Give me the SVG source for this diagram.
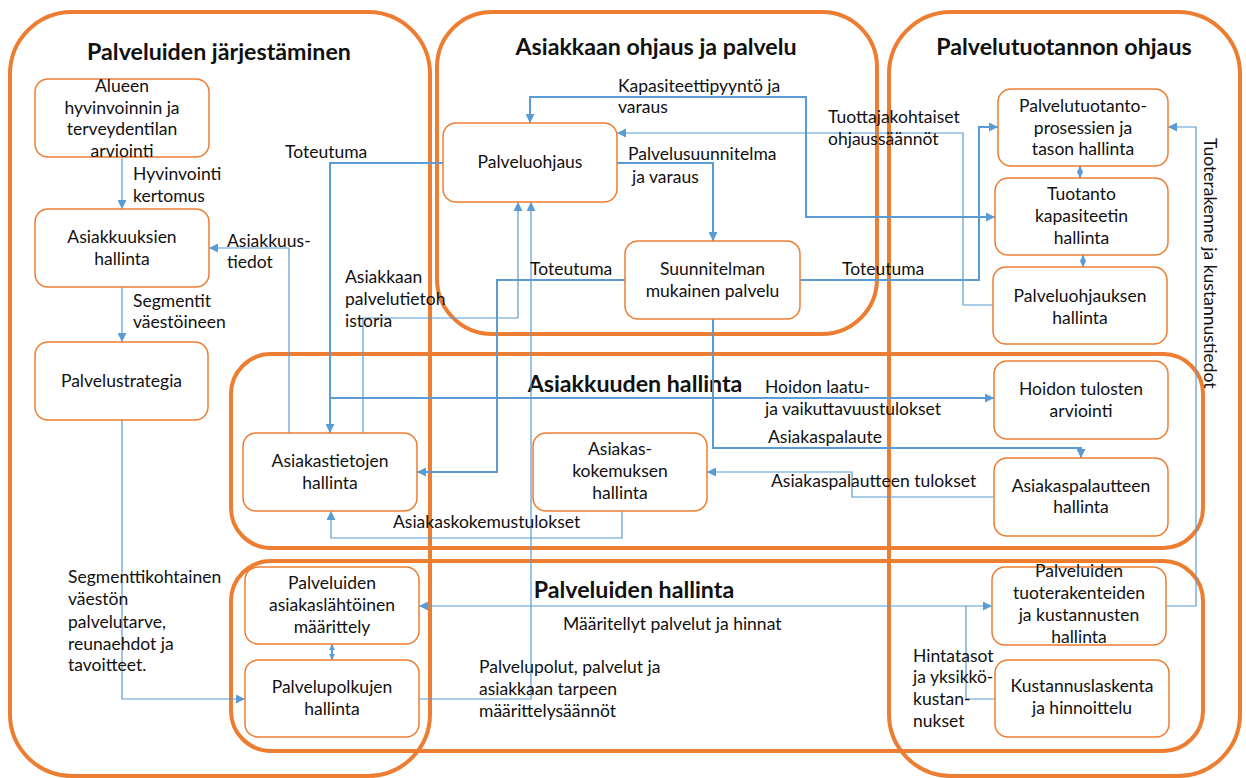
<svg xmlns="http://www.w3.org/2000/svg" width="1246" height="778" viewBox="0 0 1246 778">
<defs>
<style>
text{font-family:Lato,"Liberation Sans",sans-serif;font-size:17.5px;fill:#111}
.t{font-weight:bold;font-size:23.2px;text-anchor:middle}
.n rect{fill:#fff;stroke:#ED7D31;stroke-width:1.5}
.n text{text-anchor:middle}
.ct{fill:none;stroke:#ED7D31;stroke-width:4}
.c{fill:none;stroke:#5B9BD5;stroke-width:2}
.cl{fill:none;stroke:#5B9BD5;stroke-width:1.2}
</style>
<marker id="a" viewBox="0 0 10 10" refX="10" refY="5" markerWidth="9" markerHeight="9" markerUnits="userSpaceOnUse" orient="auto-start-reverse"><path d="M0,0 L10,5 L0,10 z" fill="#5B9BD5"/></marker>
<marker id="s" viewBox="0 0 10 10" refX="10" refY="5" markerWidth="6" markerHeight="8" markerUnits="userSpaceOnUse" orient="auto-start-reverse"><path d="M0,0 L10,5 L0,10 z" fill="#5B9BD5"/></marker>
</defs>
<rect width="1246" height="778" fill="#fff"/>

<g id="containers">
<g id="cont-jarjestaminen"><rect class="ct" x="10" y="12" width="420" height="764" rx="62"/><text class="t" x="219" y="60">Palveluiden järjestäminen</text></g>
<g id="cont-asiakkaan-ohjaus"><rect class="ct" x="437" y="12" width="440" height="322" rx="55"/><text class="t" x="656" y="55">Asiakkaan ohjaus ja palvelu</text></g>
<g id="cont-palvelutuotanto"><rect class="ct" x="889" y="12" width="351" height="764" rx="62"/><text class="t" x="1064" y="55">Palvelutuotannon ohjaus</text></g>
<g id="cont-asiakkuuden"><rect class="ct" x="231" y="354" width="972" height="194" rx="40"/><text class="t" x="635" y="392">Asiakkuuden hallinta</text></g>
<g id="cont-palveluiden-hallinta"><rect class="ct" x="231" y="561" width="972" height="190" rx="40"/><text class="t" x="634" y="598">Palveluiden hallinta</text></g>
</g>

<g id="connectors">
<path class="cl" d="M122,157 V209" marker-end="url(#a)"/>
<path class="cl" d="M122,287 V342" marker-end="url(#a)"/>
<path class="cl" d="M122,420 V699 H245" marker-end="url(#a)"/>
<path class="cl" d="M289,433 V248 H209" marker-end="url(#a)"/>
<path class="c" d="M443,163 H330 V433" marker-end="url(#a)"/>
<path class="c" d="M330,398 H994" marker-end="url(#a)"/>
<path class="cl" d="M363,433 V318 H518 V202" marker-end="url(#a)"/>
<path class="cl" d="M419,699 H531 V202" marker-end="url(#a)"/>
<path class="c" d="M530,123 V97 H806 V217 H995" marker-start="url(#a)" marker-end="url(#a)"/>
<path class="cl" d="M993,305 H963 V133 H617" marker-end="url(#a)"/>
<path class="c" d="M617,163 H713 V241" marker-end="url(#a)"/>
<path class="c" d="M800,280 H979 V127 H998" marker-end="url(#a)"/>
<path class="c" d="M625,280 H497 V472 H417" marker-end="url(#a)"/>
<path class="c" d="M713,319 V448 H1081 V458" marker-end="url(#a)"/>
<path class="cl" d="M994,497 H852 V472 H707" marker-end="url(#a)"/>
<path class="cl" d="M622,511 V538 H331 V511" marker-end="url(#a)"/>
<path class="c" d="M1080,166 V178" marker-start="url(#s)" marker-end="url(#s)"/>
<path class="c" d="M1083,255 V267" marker-start="url(#s)" marker-end="url(#s)"/>
<path class="c" d="M332,644 V660" marker-start="url(#s)" marker-end="url(#s)"/>
<path class="cl" d="M419,606 H992" marker-start="url(#a)" marker-end="url(#a)"/>
<path class="cl" d="M995,699 H966 V606"/>
<path class="cl" d="M1166,606 H1196 V127 H1168" marker-end="url(#a)"/>

<g id="connector-labels">
<text x="133" y="180">Hyvinvointi</text><text x="133" y="202">kertomus</text>
<text x="133" y="307">Segmentit</text><text x="133" y="328">väestöineen</text>
<text x="68" y="583">Segmenttikohtainen</text><text x="68" y="605">väestön</text><text x="68" y="628">palvelutarve,</text><text x="68" y="650">reunaehdot ja</text><text x="68" y="671">tavoitteet.</text>
<text x="227" y="247">Asiakkuus-</text><text x="227" y="268">tiedot</text>
<text x="285" y="158">Toteutuma</text>
<text x="345" y="283">Asiakkaan</text><text x="345" y="305">palvelutietoh</text><text x="345" y="327">istoria</text>
<text x="618" y="92">Kapasiteettipyyntö ja</text><text x="618" y="113">varaus</text>
<text x="828" y="123">Tuottajakohtaiset</text><text x="828" y="145">ohjaussäännöt</text>
<text x="628" y="160">Palvelusuunnitelma</text><text x="632" y="183">ja varaus</text>
<text x="530" y="275">Toteutuma</text>
<text x="842" y="275">Toteutuma</text>
<text x="765" y="393">Hoidon laatu-</text><text x="765" y="415">ja vaikuttavuustulokset</text>
<text x="768" y="443">Asiakaspalaute</text>
<text x="771" y="487">Asiakaspalautteen tulokset</text>
<text x="393" y="528">Asiakaskokemustulokset</text>
<text x="563" y="630">Määritellyt palvelut ja hinnat</text>
<text x="479" y="673">Palvelupolut, palvelut ja</text><text x="479" y="695">asiakkaan tarpeen</text><text x="479" y="717">määrittelysäännöt</text>
<text x="913" y="662">Hintatasot</text><text x="913" y="683">ja yksikkö-</text><text x="913" y="705">kustan-</text><text x="913" y="727">nukset</text>
<text transform="translate(1204,138) rotate(90)">Tuoterakenne ja kustannustiedot</text>
</g>
</g>

<g id="n-alueen" class="n"><rect x="35" y="79" width="174" height="78" rx="13"/><text x="122" y="92">Alueen</text><text x="122" y="113.5">hyvinvoinnin ja</text><text x="122" y="135">terveydentilan</text><text x="122" y="157">arviointi</text></g>
<g id="n-asiakkuuksien" class="n"><rect x="35" y="209" width="174" height="78" rx="13"/><text x="122" y="243">Asiakkuuksien</text><text x="122" y="265">hallinta</text></g>
<g id="n-palvelustrategia" class="n"><rect x="35" y="342" width="173" height="78" rx="13"/><text x="121.5" y="387">Palvelustrategia</text></g>
<g id="n-palveluohjaus" class="n"><rect x="443" y="123" width="174" height="79" rx="13"/><text x="530" y="168">Palveluohjaus</text></g>
<g id="n-suunnitelman" class="n"><rect x="625" y="241" width="175" height="78" rx="13"/><text x="712.5" y="275">Suunnitelman</text><text x="712.5" y="297">mukainen palvelu</text></g>
<g id="n-palvelutuotanto" class="n"><rect x="998" y="89" width="170" height="77" rx="13"/><text x="1083" y="112">Palvelutuotanto-</text><text x="1083" y="133.5">prosessien ja</text><text x="1083" y="155">tason hallinta</text></g>
<g id="n-tuotanto-kapasiteetin" class="n"><rect x="995" y="178" width="173" height="77" rx="13"/><text x="1081.5" y="200">Tuotanto</text><text x="1081.5" y="222">kapasiteetin</text><text x="1081.5" y="244">hallinta</text></g>
<g id="n-palveluohjauksen" class="n"><rect x="993" y="267" width="174" height="77" rx="13"/><text x="1080" y="302">Palveluohjauksen</text><text x="1080" y="324">hallinta</text></g>
<g id="n-hoidon" class="n"><rect x="994" y="361" width="174" height="78" rx="13"/><text x="1081" y="395">Hoidon tulosten</text><text x="1081" y="417">arviointi</text></g>
<g id="n-asiakaspalautteen" class="n"><rect x="994" y="458" width="174" height="78" rx="13"/><text x="1081" y="492">Asiakaspalautteen</text><text x="1081" y="513">hallinta</text></g>
<g id="n-asiakastietojen" class="n"><rect x="243" y="433" width="174" height="78" rx="13"/><text x="330" y="467">Asiakastietojen</text><text x="330" y="489">hallinta</text></g>
<g id="n-asiakaskokemuksen" class="n"><rect x="533" y="433" width="174" height="78" rx="13"/><text x="620" y="455">Asiakas-</text><text x="620" y="477">kokemuksen</text><text x="620" y="499">hallinta</text></g>
<g id="n-palveluiden-maarittely" class="n"><rect x="245" y="567" width="174" height="77" rx="13"/><text x="332" y="589">Palveluiden</text><text x="332" y="611">asiakaslähtöinen</text><text x="332" y="633">määrittely</text></g>
<g id="n-palvelupolkujen" class="n"><rect x="245" y="660" width="174" height="77" rx="13"/><text x="332" y="693">Palvelupolkujen</text><text x="332" y="715">hallinta</text></g>
<g id="n-tuoterakenteiden" class="n"><rect x="992" y="567" width="174" height="78" rx="13"/><text x="1079" y="577">Palveluiden</text><text x="1079" y="599">tuoterakenteiden</text><text x="1079" y="621">ja kustannusten</text><text x="1079" y="643">hallinta</text></g>
<g id="n-kustannuslaskenta" class="n"><rect x="995" y="660" width="174" height="77" rx="13"/><text x="1082" y="692">Kustannuslaskenta</text><text x="1082" y="714">ja hinnoittelu</text></g>
</svg>
